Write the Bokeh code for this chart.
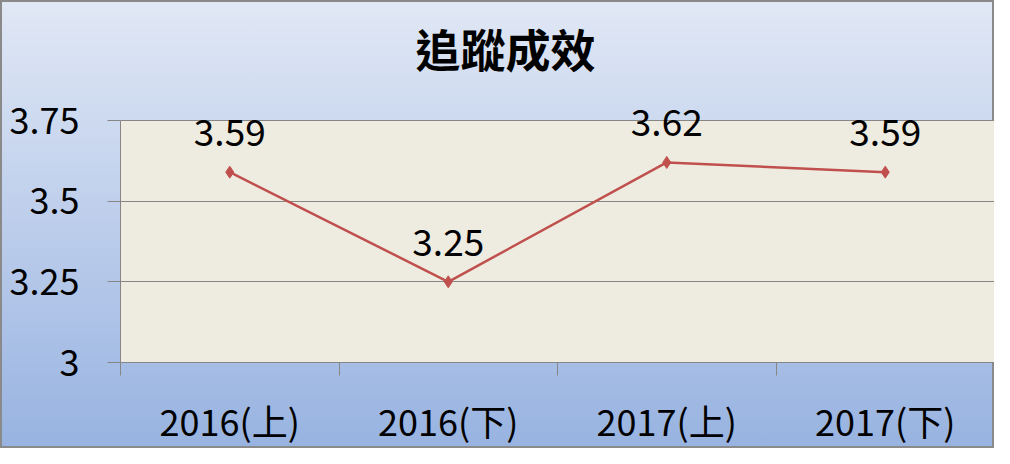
from bokeh.plotting import figure
from bokeh.models import Range1d, FixedTicker, ColumnDataSource
from bokeh.core.properties import value
from bokeh.embed import file_html
from bokeh.resources import INLINE

title_text = "追蹤成效"
categories = ["2016(上)", "2016(下)", "2017(上)", "2017(下)"]
scores = [3.59, 3.25, 3.62, 3.59]
y_ticks = [3, 3.25, 3.5, 3.75]
y_tick_labels = ["3", "3.25", "3.5", "3.75"]

FONT = "Noto Sans CJK TC"
xs = [i + 0.5 for i in range(len(categories))]
src = ColumnDataSource(dict(x=xs, y=scores, lab=[f"{v:.2f}" for v in scores]))

# plot area (3..3.75) is 242px tall and sits 120px below the top edge;
# the frame is extended upward so the title and labels are not clipped
y_lo, y_hi = y_ticks[0], y_ticks[-1]
y_top = y_hi + 120 * (y_hi - y_lo) / 242

p = figure(width=994, height=448, output_backend="svg", toolbar_location=None,
           x_range=Range1d(0, len(categories)), y_range=Range1d(y_lo, y_top),
           min_border_left=120, min_border_right=0, min_border_top=0, min_border_bottom=86)
p.border_fill_color = None
p.background_fill_color = None
p.outline_line_color = None
p.styles = {"background": "linear-gradient(to bottom, #E1E8F5, #98B3E1)",
            "box-shadow": "inset 0 0 0 2px #8A8A8A"}

# beige plot area
p.quad(left=[0], right=[len(categories)], bottom=[y_lo], top=[y_hi],
       fill_color="#EEECE1", line_color=None, level="image")

# title (centred on the whole chart, not on the plot area)
p.text(x=[len(categories) / 2], y=[y_hi], text=[title_text], x_offset=-52, y_offset=-72,
       text_font=value(FONT), text_font_size="45px", text_font_style="bold",
       text_align="center", text_baseline="middle", text_color="#000000")

# grid
p.xgrid.grid_line_color = None
p.ygrid.ticker = FixedTicker(ticks=y_ticks)
p.ygrid.grid_line_color = "#868686"
p.ygrid.grid_line_width = 1

# y axis
p.yaxis.ticker = FixedTicker(ticks=y_ticks)
p.yaxis.bounds = (y_lo, y_hi)
p.yaxis.major_label_overrides = {t: l for t, l in zip(y_ticks, y_tick_labels)}
p.yaxis.major_label_text_font = FONT
p.yaxis.major_label_text_font_size = "36px"
p.yaxis.major_label_text_color = "#000000"
p.yaxis.major_tick_out = 13
p.yaxis.major_tick_in = 0
p.yaxis.major_tick_line_color = "#868686"
p.yaxis.minor_tick_line_color = None
p.yaxis.axis_line_color = "#868686"
p.yaxis.major_label_standoff = 28

# x axis
p.xaxis.ticker = FixedTicker(ticks=xs, minor_ticks=list(range(len(categories) + 1)))
p.xaxis.major_label_overrides = {x: c for x, c in zip(xs, categories)}
p.xaxis.major_label_text_font = FONT
p.xaxis.major_label_text_font_size = "36px"
p.xaxis.major_label_text_color = "#000000"
p.xaxis.major_tick_out = 13
p.xaxis.major_tick_in = 0
p.xaxis.major_tick_line_color = None
p.xaxis.minor_tick_out = 13
p.xaxis.minor_tick_in = 0
p.xaxis.minor_tick_line_color = "#868686"
p.xaxis.axis_line_color = "#868686"
p.xaxis.major_label_standoff = 18

p.line("x", "y", source=src, line_color="#C0504D", line_width=2.5)
p.scatter("x", "y", source=src, marker="diamond", size=12, fill_color="#C0504D", line_color="#C0504D")
p.text("x", "y", text="lab", source=src, text_font=value(FONT), text_font_size="37px",
       text_align="center", text_baseline="bottom", y_offset=-26, text_color="#000000")

open("out.html", "w").write(file_html(p, INLINE))
